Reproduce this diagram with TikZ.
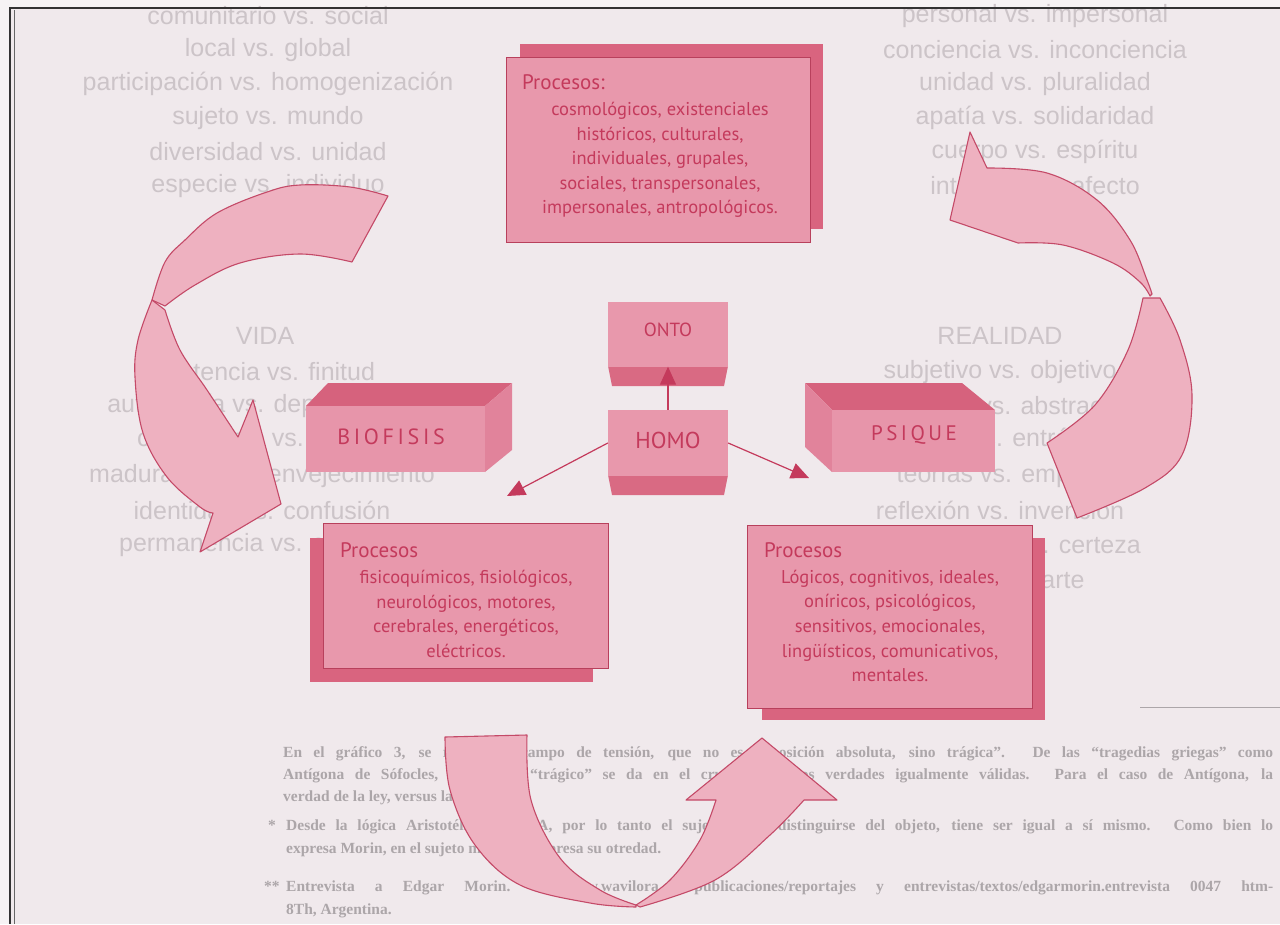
\documentclass[tikz,border=0pt]{standalone}
\usepackage{fontspec}
\setmainfont{Liberation Serif}
\newfontfamily\diafont{PT Sans}
\newfontfamily\ghostfont{Liberation Sans}
\usetikzlibrary{arrows.meta}
\definecolor{pagebg}{HTML}{F6F3F4}
\definecolor{framebg}{HTML}{F0E9EC}
\definecolor{frontpink}{HTML}{E898AC}
\definecolor{shadowpink}{HTML}{D9647F}
\definecolor{toppink}{HTML}{D6627D}
\definecolor{sidepink}{HTML}{E389A0}
\definecolor{bandpink}{HTML}{D96A83}
\definecolor{boxline}{HTML}{B8405C}
\definecolor{txtpink}{HTML}{C43A5C}
\definecolor{arrfill}{HTML}{EEB1C0}
\definecolor{arrline}{HTML}{C44A68}
\definecolor{ghost}{HTML}{CCC4C8}
\definecolor{foot}{HTML}{ACA6A9}
\tikzset{
  frontbox/.style={draw=boxline, line width=0.9pt, fill=frontpink, inner sep=0pt},
  shadowbox/.style={fill=shadowpink},
  titletext/.style={font=\diafont\fontsize{21}{24}\selectfont, text=txtpink, inner sep=0pt, anchor=west},
  bodytext/.style={font=\diafont\fontsize{18.5}{24.6}\selectfont, text=txtpink, align=center, inner sep=0pt},
  labeltext/.style={font=\diafont\fontsize{21}{24}\selectfont, text=txtpink, inner sep=0pt},
  conn/.style={draw=txtpink, line width=1.2pt, -{Triangle[length=18pt,width=16pt]}},
  bigarrow/.style={draw=arrline, line width=1.1pt, line join=round, fill=arrfill},
  ghosttext/.style={font=\ghostfont\fontsize{25}{30}\selectfont, text=ghost, inner sep=0pt},
  foottext/.style={font=\bfseries\fontsize{15.5}{18}\selectfont, text=foot, inner sep=0pt, anchor=base west}
}
\begin{document}
\begin{tikzpicture}[x=1pt,y=-1pt]
\useasboundingbox (0,0) rectangle (1280,924);
% page background
\fill[pagebg] (0,0) rectangle (1280,924);
\fill[framebg] (11,8) rectangle (1280,924);
% ghost text columns
\node[ghosttext] (g1) at (268,16) {comunitario vs. social};
\node[ghosttext] (g2) at (268,50) {local vs. global};
\node[ghosttext] (g3) at (268,84) {participación vs. homogenización};
\node[ghosttext] (g4) at (268,118) {sujeto vs. mundo};
\node[ghosttext] (g5) at (268,152) {diversidad vs. unidad};
\node[ghosttext] (g6) at (268,186) {especie vs. individuo};
\node[ghosttext] (h1) at (1035,16) {personal vs. impersonal};
\node[ghosttext] (h2) at (1035,50) {conciencia vs. inconciencia};
\node[ghosttext] (h3) at (1035,84) {unidad vs. pluralidad};
\node[ghosttext] (h4) at (1035,118) {apatía vs. solidaridad};
\node[ghosttext] (h5) at (1035,152) {cuerpo vs. espíritu};
\node[ghosttext] (h6) at (1035,186) {intelecto vs. afecto};
\node[ghosttext] (v0) at (265,336) {VIDA};
\node[ghosttext] (v1) at (262,372) {existencia vs. finitud};
\node[ghosttext] (v2) at (262,406) {autonomía vs. dependencia};
\node[ghosttext] (v3) at (262,440) {crecimiento vs. gozo y};
\node[ghosttext] (v4) at (262,476) {maduración vs. envejecimiento};
\node[ghosttext] (v5) at (262,510) {identidad vs. confusión};
\node[ghosttext] (v6) at (262,545) {permanencia vs. cambios};
\node[ghosttext] (r0) at (1000,336) {REALIDAD};
\node[ghosttext] (r1) at (1000,372) {subjetivo vs. objetivo};
\node[ghosttext] (r2) at (1000,406) {concreto vs. abstracto};
\node[ghosttext] (r3) at (1000,440) {caótico vs. entrópico};
\node[ghosttext] (r4) at (1000,476) {teorías vs. empiria};
\node[ghosttext] (r5) at (1000,510) {reflexión vs. invención};
\node[ghosttext] (r6) at (1000,545) {incertidumbre vs. certeza};
\node[ghosttext] (r7) at (1000,580) {ciencia vs. arte};
% footnotes
\draw[foot, line width=0.6pt] (1140,707) -- (1280,707);
\node[foottext] (f1) at (283,757) {\makebox[990pt][s]{En el gráfico 3, se resalta el campo de tensión, que no es “oposición absoluta, sino trágica”. De las “tragedias griegas” como}};
\node[foottext] (f2) at (283,779) {\makebox[990pt][s]{Antígona de Sófocles, el sentido “trágico” se da en el cruce entre dos verdades igualmente válidas. Para el caso de Antígona, la}};
\node[foottext] (f3) at (283,801) {verdad de la ley, versus la ley filial.};
\node[foottext] (f4s) at (268,830) {*};
\node[foottext] (f4) at (286,830) {\makebox[987pt][s]{Desde la lógica Aristotélica, A = A, por lo tanto el sujeto, para distinguirse del objeto, tiene ser igual a sí mismo. Como bien lo}};
\node[foottext] (f5) at (286,853) {expresa Morin, en el sujeto mismo se expresa su otredad.};
\node[foottext] (f6s) at (264,891) {**};
\node[foottext] (f6) at (286,891) {\makebox[987pt][s]{Entrevista a Edgar Morin. www.wavilora.com/publicaciones/reportajes y entrevistas/textos/edgarmorin.entrevista 0047 htm-}};
\node[foottext] (f7) at (286,914) {8Th, Argentina.};
% frame
\draw[black!80, line width=2.2pt] (10,8) -- (1280,8);
\draw[black!80, line width=1.6pt] (10,7) -- (10,924);
\draw[black!60, line width=0.8pt] (14,10) -- (14,924);
% top process box
\fill[shadowbox] (520,44) rectangle (823,229);
\node[frontbox, minimum width=304pt, minimum height=185pt] (ptop) at (658,149.5) {};
\node[titletext] (ptoptitle) at (522,82) {Procesos:};
\node[bodytext] (ptopbody) at (660,160) {cosmológicos, existenciales\\históricos, culturales,\\individuales, grupales,\\sociales, transpersonales,\\impersonales, antropológicos.};
% bottom left process box
\fill[shadowbox] (310,538) rectangle (593,682);
\node[frontbox, minimum width=285pt, minimum height=145pt] (pbio) at (465.5,595.5) {};
\node[titletext] (pbiotitle) at (340,550) {Procesos};
\node[bodytext] (pbiobody) at (466,614) {fisicoquímicos, fisiológicos,\\neurológicos, motores,\\cerebrales, energéticos,\\eléctricos.};
% bottom right process box
\fill[shadowbox] (762,538) rectangle (1045,720);
\node[frontbox, minimum width=285pt, minimum height=183pt] (ppsi) at (889.5,616.5) {};
\node[titletext] (ppsititle) at (764,550) {Procesos};
\node[bodytext] (ppsibody) at (890,626) {Lógicos, cognitivos, ideales,\\oníricos, psicológicos,\\sensitivos, emocionales,\\lingüísticos, comunicativos,\\mentales.};
% BIOFISIS cuboid
\fill[toppink] (306,406) -- (328,383) -- (512,383) -- (485,406) -- cycle;
\fill[sidepink!85!shadowpink] (485,406) -- (512,383) -- (512,450) -- (485,472) -- cycle;
\fill[frontpink!95!shadowpink] (306,406) rectangle (485,472);
\node[labeltext, font=\diafont\fontsize{22}{24}\selectfont] (bio) at (391,437) {B\,I\,O\,F\,I\,S\,I\,S};
% PSIQUE cuboid
\fill[toppink] (805,383) -- (962,383) -- (995,410) -- (832,410) -- cycle;
\fill[sidepink!85!shadowpink] (805,383) -- (832,410) -- (832,472) -- (805,447) -- cycle;
\fill[frontpink!95!shadowpink] (832,410) rectangle (995,472);
\node[labeltext] (psi) at (914,435) {P\,S\,I\,Q\,U\,E};
% ONTO
\fill[bandpink] (608,366) -- (728,366) -- (724,386) -- (612,386) -- cycle;
\node[fill=frontpink, minimum width=120pt, minimum height=65pt, inner sep=0pt] (onto) at (668,334) {};
\node[labeltext, font=\diafont\fontsize{19}{22}\selectfont] (ontolabel) at (668,330) {ONTO};
% HOMO
\fill[bandpink] (608,475) -- (728,475) -- (724,495) -- (612,495) -- cycle;
\node[fill=frontpink, minimum width=120pt, minimum height=66pt, inner sep=0pt] (homo) at (668,443) {};
\node[labeltext, font=\diafont\fontsize{23}{26}\selectfont] (homolabel) at (668,440) {HOMO};
% connectors
\coordinate (tl) at (507,496);
\coordinate (tr) at (809,478);
\draw[conn] (homo.north) -- (onto.south);
\draw[conn] (homo.west) -- (tl);
\draw[conn] (homo.east) -- (tr);
% left curved arrow
\draw[bigarrow] (388,196) -- (352,262) -- plot[smooth, tension=0.6] coordinates {(352,262) (300,254) (240,263) (195,285) (165,306)} -- plot[smooth, tension=0.6] coordinates {(152,300) (165,262) (185,240) (217,213) (267,192) (300,185) (350,187) (388,196)} -- cycle;
\draw[bigarrow] plot[smooth, tension=0.6] coordinates {(152,300) (138,340) (135,377) (143,433) (167,477) (200,507) (213,513)} -- (200,552) -- (281,504) -- (253,400) -- (238,437) -- plot[smooth, tension=0.6] coordinates {(238,437) (207,390) (180,350) (165,310)} -- cycle;
% right curved arrow
\draw[bigarrow] plot[smooth, tension=0.6] coordinates {(1143,298) (1128,350) (1095,405) (1047,443)} -- (1077,518) -- plot[smooth, tension=0.6] coordinates {(1077,518) (1145,488) (1182,455) (1192,395) (1180,340) (1160,298)} -- cycle;
\draw[bigarrow] (970,132) -- (950,220) -- (1018,243) -- plot[smooth, tension=0.6] coordinates {(1018,243) (1063,245) (1113,263) (1140,282) (1150,296)} -- plot[smooth, tension=0.6] coordinates {(1152,294) (1147,280) (1130,240) (1097,200) (1047,173) (987,168)} -- cycle;
% bottom curved arrow
\draw[bigarrow] (445,737) -- (527,735) -- plot[smooth, tension=0.6] coordinates {(527,735) (531,800) (560,858) (600,890) (636,905)} -- plot[smooth, tension=0.6] coordinates {(636,907) (590,903) (520,885) (475,845) (450,790) (445,737)} -- cycle;
\draw[bigarrow] plot[smooth, tension=0.6] coordinates {(636,905) (670,880) (700,840) (716,800)} -- (686,800) -- (762,738) -- (837,800) -- (804,800) -- plot[smooth, tension=0.6] coordinates {(804,800) (770,835) (715,880) (640,907)} -- cycle;
\end{tikzpicture}
\end{document}
